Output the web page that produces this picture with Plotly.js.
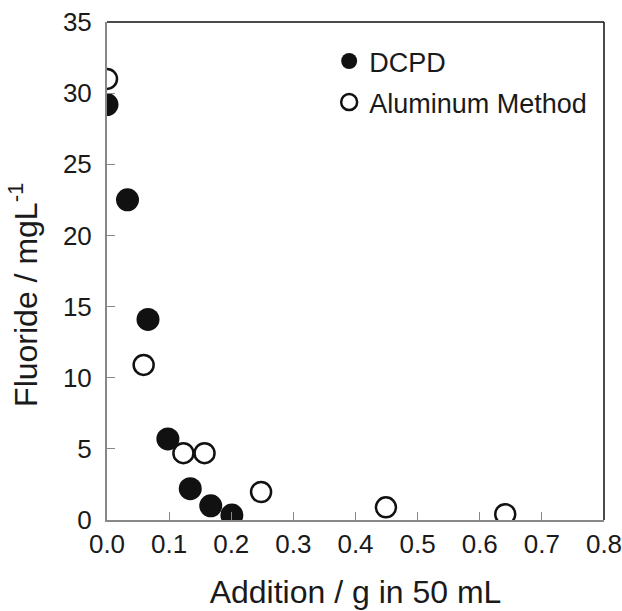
<!DOCTYPE html>
<html>
<head>
<meta charset="utf-8">
<script src="https://cdn.plot.ly/plotly-3.0.1.min.js"></script>
<style>html,body{margin:0;padding:0;background:#fff;}#chart{width:622px;height:611px;}</style>
</head>
<body>
<div id="chart"></div>
<script>
const dcpdX = [0.0, 0.033, 0.066, 0.098, 0.134, 0.167, 0.201];
const dcpdY = [29.2, 22.5, 14.1, 5.7, 2.2, 1.0, 0.35];
const alX = [0.0, 0.059, 0.123, 0.157, 0.248, 0.449, 0.641];
const alY = [31.0, 10.9, 4.7, 4.7, 1.97, 0.89, 0.4];
const xTicks = [0, 0.1, 0.2, 0.3, 0.4, 0.5, 0.6, 0.7, 0.8];
const xTickText = ["0.0", "0.1", "0.2", "0.3", "0.4", "0.5", "0.6", "0.7", "0.8"];
const yTicks = [0, 5, 10, 15, 20, 25, 30, 35];
const xTitle = 'Addition / g in 50 mL';
const yTitle = 'Fluoride / mgL<sup>-1</sup>';

const traces = [
  {x: dcpdX, y: dcpdY, name: 'DCPD', type: 'scatter', mode: 'markers', legendgroup: 'a',
   marker: {symbol: 'circle', size: 23, color: '#111111', line: {width: 0}}},
  {x: alX, y: alY, name: 'Aluminum Method', type: 'scatter', mode: 'markers', legendgroup: 'b',
   marker: {symbol: 'circle', size: 20, color: '#ffffff', line: {width: 2.5, color: '#111111'}}}
];

const layout = {
  width: 622, height: 611,
  margin: {l: 107, r: 18, t: 22, b: 91},
  paper_bgcolor: '#ffffff', plot_bgcolor: '#ffffff',
  font: {family: 'Liberation Sans, Arial, sans-serif', color: '#1a1a1a', size: 26},
  showlegend: true,
  legend: {x: 0.447, y: 0.97, xanchor: 'left', yanchor: 'top', bgcolor: 'rgba(0,0,0,0)',
           font: {size: 27, color: '#1a1a1a'}, itemwidth: 30, tracegroupgap: 3},
  xaxis: {range: [0, 0.8], tickvals: xTicks, ticktext: xTickText, ticks: 'inside', ticklen: 8,
          tickcolor: '#888888', showline: true, linecolor: '#888888', linewidth: 2,
          showgrid: false, zeroline: false, tickfont: {size: 26}, ticklabeloverflow: 'allow',
          title: {text: xTitle, font: {size: 32}, standoff: 22}},
  yaxis: {range: [0, 35], tickvals: yTicks, ticks: 'inside', ticklen: 8,
          tickcolor: '#888888', showline: true, linecolor: '#888888', linewidth: 2,
          showgrid: false, zeroline: false, tickfont: {size: 26}, ticklabelstandoff: 8,
          ticklabeloverflow: 'allow'},
  annotations: [
    {text: yTitle, xref: 'paper', yref: 'paper', x: 0, y: 0.452, xshift: -84,
     xanchor: 'center', yanchor: 'middle', textangle: -90, showarrow: false,
     font: {size: 32, color: '#1a1a1a'}}
  ],
  shapes: [
    {type: 'line', xref: 'paper', yref: 'paper', x0: 0, x1: 1, y0: 1, y1: 1, line: {color: '#111111', width: 1.5}},
    {type: 'line', xref: 'paper', yref: 'paper', x0: 1, x1: 1, y0: 0, y1: 1, line: {color: '#111111', width: 1.5}}
  ]
};

Plotly.newPlot('chart', traces, layout, {displayModeBar: false, staticPlot: true});
</script>
</body>
</html>
